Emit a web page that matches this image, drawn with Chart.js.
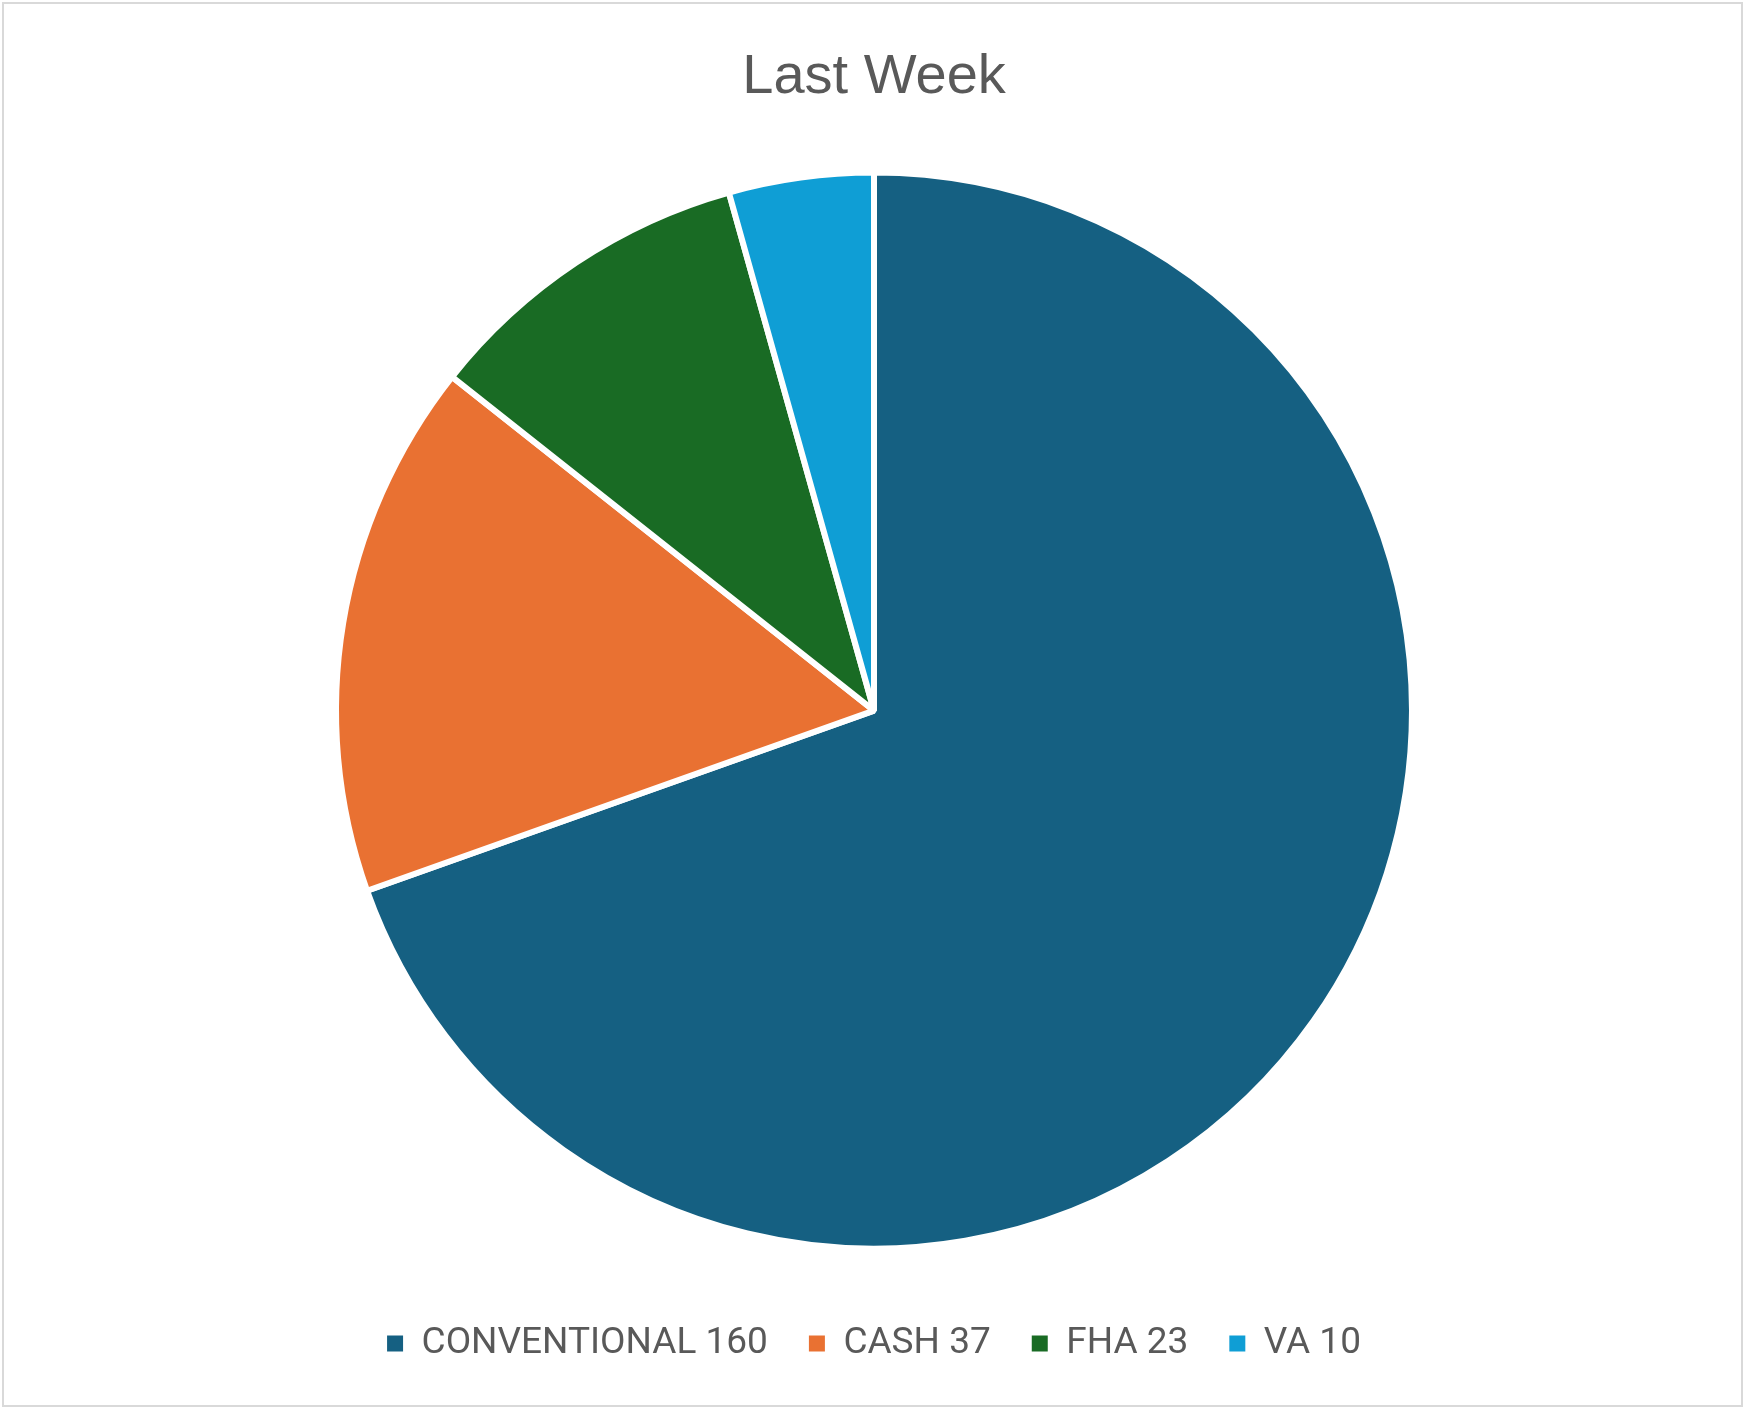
<!DOCTYPE html>
<html>
<head>
<meta charset="utf-8">
<script src="https://cdn.jsdelivr.net/npm/chart.js@4/dist/chart.umd.min.js"></script>
<style>
  html, body { margin: 0; padding: 0; background: #ffffff; }
  #wrap { position: relative; width: 1745px; height: 1409px; }
</style>
</head>
<body>
<div id="wrap"><canvas id="c" width="1745" height="1409"></canvas></div>
<script>
const titleText = "Last Week";
const categories = ["CONVENTIONAL", "CASH", "FHA", "VA"];
const values = [160, 37, 23, 10];
const colors = ["#156082", "#E97132", "#196B24", "#0F9ED5"];
const legendLabels = categories.map((c, i) => c + " " + values[i]);

const frame = {
  id: "frame",
  beforeDraw(chart) {
    const ctx = chart.ctx;
    ctx.save();
    ctx.fillStyle = "#ffffff";
    ctx.fillRect(0, 0, chart.width, chart.height);
    ctx.strokeStyle = "#d9d9d9";
    ctx.lineWidth = 2;
    ctx.strokeRect(3, 3, chart.width - 6, chart.height - 6);
    ctx.restore();
  }
};

Chart.defaults.font.family = "'Liberation Sans', Arial, sans-serif";
const baseGen = Chart.controllers.pie.overrides.plugins.legend.labels.generateLabels;
const chart = new Chart(document.getElementById("c"), {
  type: "pie",
  data: {
    labels: legendLabels,
    datasets: [{
      data: values,
      backgroundColor: colors,
      borderColor: "#ffffff",
      borderWidth: 6,
      hoverOffset: 0
    }]
  },
  options: {
    responsive: false,
    animation: false,
    radius: 538,
    layout: { padding: { left: 3, right: 0, top: 0, bottom: 37 } },
    plugins: {
      tooltip: { enabled: false },
      title: {
        display: true,
        text: titleText,
        color: "#595959",
        font: { size: 56, weight: "normal", family: "'Liberation Sans', Arial, sans-serif" },
        padding: { top: 44, bottom: 26 }
      },
      legend: {
        position: "bottom",
        labels: {
          color: "#595959",
          boxWidth: 16,
          boxHeight: 16,
          padding: 41,
          font: { size: 37, family: "Roboto, 'Liberation Sans', sans-serif" },
          generateLabels(chart) {
            return baseGen(chart).map(l => Object.assign(l, { lineWidth: 0, strokeStyle: l.fillStyle }));
          }
        }
      }
    }
  },
  plugins: [frame]
});
</script>
</body>
</html>
